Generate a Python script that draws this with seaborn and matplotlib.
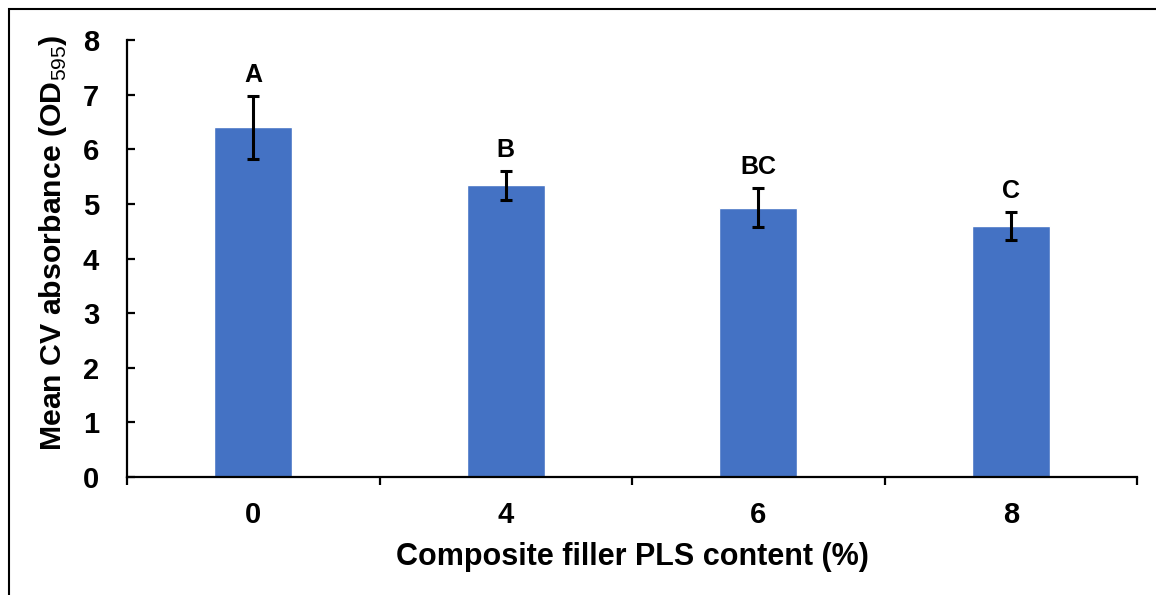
import matplotlib
matplotlib.use("Agg")
import matplotlib.pyplot as plt
import seaborn as sns
import pandas as pd
from matplotlib.patches import Rectangle
from matplotlib.ticker import FixedLocator

categories = ["0", "4", "6", "8"]
means = [6.40, 5.34, 4.93, 4.59]
errors = [0.58, 0.27, 0.36, 0.26]
letters = ["A", "B", "BC", "C"]

sns.set_theme(style="white")
plt.rcParams["font.family"] = ["Liberation Sans", "DejaVu Sans"]
plt.rcParams["mathtext.fontset"] = "custom"
plt.rcParams["mathtext.rm"] = "Liberation Sans"
plt.rcParams["mathtext.bf"] = "Liberation Sans:bold"
for k in ["text.color", "axes.labelcolor", "xtick.color", "ytick.color"]:
    plt.rcParams[k] = "black"

df = pd.DataFrame({"content": categories, "mean": means})

fig = plt.figure(figsize=(11.56, 5.95), dpi=100)
ax = fig.add_axes([127/1156, 1-477/595, (1137-127)/1156, (477-40)/595])

sns.barplot(data=df, x="content", y="mean", color="#4472C4", saturation=1,
            width=0.31, errorbar=None, ax=ax)
ax.errorbar(range(len(categories)), means, yerr=errors, fmt="none",
            ecolor="black", elinewidth=2.2, capsize=4.5, capthick=2.2, zorder=5)

for i, (m, e, l) in enumerate(zip(means, errors, letters)):
    ax.annotate(l, (i, m + e), xytext=(0, 15), textcoords="offset points",
                ha="center", va="center", fontsize=18, fontweight="bold", color="black")

ax.set_xlim(-0.5, 3.5)
ax.set_ylim(0, 8)
ax.set_yticks(range(0, 9))
for s in ["top", "right"]:
    ax.spines[s].set_visible(False)
for s in ["left", "bottom"]:
    ax.spines[s].set_linewidth(1.6)
    ax.spines[s].set_color("black")

ax.tick_params(axis="y", direction="in", length=6, width=1.6, pad=20,
               labelsize=21, color="black", labelcolor="black", left=True)
ax.tick_params(axis="x", which="major", length=0, pad=17, labelsize=21, labelcolor="black")
ax.xaxis.set_minor_locator(FixedLocator([-0.5, 0.5, 1.5, 2.5, 3.5]))
ax.tick_params(axis="x", which="minor", direction="out", length=6, width=1.6,
               color="black", bottom=True)
for lab in ax.get_xticklabels() + ax.get_yticklabels():
    lab.set_fontweight("bold")

ax.set_xlabel("Composite filler PLS content (%)", fontsize=22, fontweight="bold",
              labelpad=10, color="black")
ax.set_ylabel(r"Mean CV absorbance (OD$_{\mathrm{595}}$)", fontsize=21.8, fontweight="bold",
              color="black")
ax.yaxis.set_label_coords(-0.057, 0.535)

fig.patches.append(Rectangle((9/1156, -0.1), 1.2, 1.1 - 9.5/595, transform=fig.transFigure,
                             fill=False, edgecolor="black", linewidth=1.5))

fig.savefig("out.png", dpi=100)
